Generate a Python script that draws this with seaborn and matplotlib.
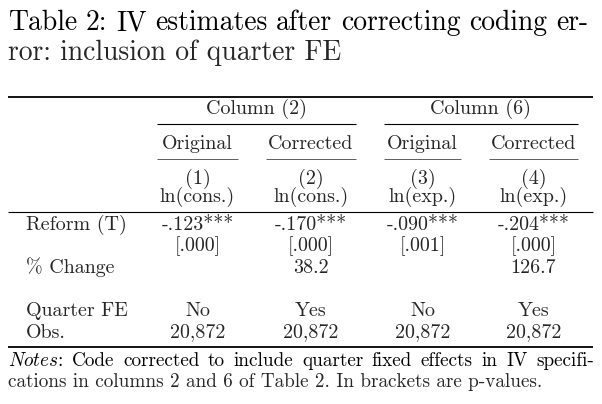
import matplotlib
matplotlib.use("Agg")
import matplotlib.pyplot as plt
import seaborn as sns

# ---------------- data ----------------
title_line1 = "Table 2: IV estimates after correcting coding er-"
title_line2 = "ror: inclusion of quarter FE"
group_labels = ["Column (2)", "Column (6)"]
spec_labels = ["Original", "Corrected", "Original", "Corrected"]
col_numbers = ["(1)", "(2)", "(3)", "(4)"]
dep_vars = ["ln(cons.)", "ln(cons.)", "ln(exp.)", "ln(exp.)"]
row_labels = ["Reform (T)", "% Change", "Quarter FE", "Obs."]
coefs = [-0.123, -0.170, -0.090, -0.204]
stars = ["***", "***", "***", "***"]
pvalues = [0.000, 0.000, 0.001, 0.000]
pct_change = [None, 38.2, None, 126.7]
quarter_fe = ["No", "Yes", "No", "Yes"]
obs = [20872, 20872, 20872, 20872]
notes_label = "Notes"
notes_line1 = "Code corrected to include quarter fixed effects in IV specifi-"
notes_line2 = "cations in columns 2 and 6 of Table 2. In brackets are p-values."

# ---------------- style ----------------
sns.set_theme(style="white")
plt.rcParams["font.family"] = ["cmr10", "DejaVu Serif"]
plt.rcParams["mathtext.fontset"] = "cm"
plt.rcParams["axes.unicode_minus"] = False

W, H = 602, 404
fig = plt.figure(figsize=(W / 100, H / 100), dpi=100)
fig.patch.set_facecolor("white")
ax = fig.add_axes([0, 0, 1, 1])
ax.set_xlim(0, W)
ax.set_ylim(H, 0)
ax.axis("off")
sns.despine(ax=ax, left=True, bottom=True)

TITLE_FS = 19.9
BODY_FS = 14.4
NOTE_FS = 13.8

col_x = [197.5, 311, 422.5, 533.5]
group_span = [(157, 356), (384, 578)]
spec_span = [(157, 238), (266, 356), (384, 461), (489, 578)]
label_x = 26

renderer = fig.canvas.get_renderer()


def justified(words, x0, x1, y, size):
    texts = [ax.text(0, y, w, fontsize=size, va="baseline", ha="left", color="black")
             for w in words]
    widths = [t.get_window_extent(renderer=renderer).width for t in texts]
    gap = (x1 - x0 - sum(widths)) / (len(words) - 1)
    x = x0
    for t, w in zip(texts, widths):
        t.set_x(x)
        x += w + gap


def fmt_coef(v, s):
    return f"{v:.3f}".replace("0.", ".", 1) + s


def fmt_p(p):
    return "[" + f"{p:.3f}".replace("0.", ".", 1) + "]"


# title
justified(title_line1.split(), 8, 588, 30.5, TITLE_FS)
ax.text(8, 59.5, title_line2, fontsize=TITLE_FS, va="baseline", ha="left")

# rules
ax.hlines(97, 8, 593, color="black", lw=1.3)
for a, b in group_span:
    ax.hlines(123.5, a, b, color="black", lw=0.8)
for a, b in spec_span:
    ax.hlines(159, a, b, color="#444444", lw=0.6)
ax.hlines(211.5, 8, 593, color="black", lw=0.8)
ax.hlines(347, 8, 593, color="black", lw=1.3)

# header
for (a, b), g in zip(group_span, group_labels):
    ax.text((a + b) / 2, 114, g, fontsize=BODY_FS, ha="center", va="baseline")
for x, s in zip(col_x, spec_labels):
    ax.text(x, 149, s, fontsize=BODY_FS, ha="center", va="baseline")
for x, s in zip(col_x, col_numbers):
    ax.text(x, 183.5, s, fontsize=BODY_FS, ha="center", va="baseline")
for x, s in zip(col_x, dep_vars):
    ax.text(x, 202, s, fontsize=BODY_FS, ha="center", va="baseline")

# body
row_y = {"Reform (T)": 230, "pval": 251.5, "% Change": 273, "Quarter FE": 316, "Obs.": 337.5}
for lab in row_labels:
    ax.text(label_x, row_y[lab], lab, fontsize=BODY_FS, ha="left", va="baseline")
for x, c, s, p, pc, q, n in zip(col_x, coefs, stars, pvalues, pct_change, quarter_fe, obs):
    ax.text(x, row_y["Reform (T)"], fmt_coef(c, s), fontsize=BODY_FS, ha="center", va="baseline")
    ax.text(x, row_y["pval"], fmt_p(p), fontsize=BODY_FS, ha="center", va="baseline")
    if pc is not None:
        ax.text(x, row_y["% Change"], f"{pc:.1f}", fontsize=BODY_FS, ha="center", va="baseline")
    ax.text(x, row_y["Quarter FE"], q, fontsize=BODY_FS, ha="center", va="baseline")
    ax.text(x, row_y["Obs."], f"{n:,}", fontsize=BODY_FS, ha="center", va="baseline")

# notes
justified([r"$\mathit{" + notes_label + r"}$:"] + notes_line1.split(), 8, 594, 365.5, NOTE_FS)
ax.text(8, 387, notes_line2, fontsize=NOTE_FS, ha="left", va="baseline")

fig.savefig("out.png", dpi=100, facecolor="white")
